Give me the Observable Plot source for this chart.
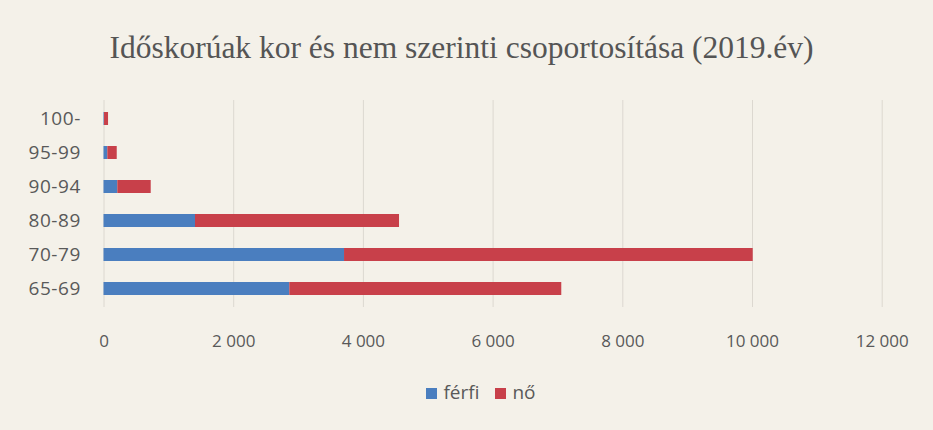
<!DOCTYPE html>
<html>
<head>
<meta charset="utf-8">
<script src="https://cdn.jsdelivr.net/npm/d3@7"></script>
<script src="https://cdn.jsdelivr.net/npm/@observablehq/plot@0.6"></script>
<style>
  html, body { margin: 0; padding: 0; background: #f4f1e9; }
  #wrap { position: relative; width: 933px; height: 430px; overflow: hidden; background: #f4f1e9; }
  #title { position: absolute; left: 0; width: 923px; top: 28px; text-align: center;
           font-family: "Liberation Serif", "Times New Roman", serif; font-size: 31.5px; color: #555; line-height: 40px; }
  #chart { position: absolute; left: 0; top: 88px; }
  #legend { position: absolute; left: 0; width: 962px; top: 379px; text-align: center;
            font-family: "Open Sans", sans-serif; font-size: 19px; color: #595959; line-height: 26px; }
  #legend span.item { display: inline-block; margin: 0 8px; }
  #legend span.sw { display: inline-block; width: 11px; height: 11px; margin-right: 6px; vertical-align: 0px; }
  #chart svg g[aria-label="y-axis tick label"] text { letter-spacing: 0.6px; }
</style>
</head>
<body>
<div id="wrap">
  <div id="title"></div>
  <div id="chart"></div>
  <div id="legend"></div>
</div>
<script>
const title = "Időskorúak kor és nem szerinti csoportosítása (2019.év)";
const categories = ["100-", "95-99", "90-94", "80-89", "70-79", "65-69"];
const seriesNames = ["férfi", "nő"];
const seriesColors = ["#4a7ebf", "#c8404a"];
const ferfi = [8, 59, 213, 1411, 3709, 2865];
const no = [62, 145, 515, 3146, 6302, 4194];
const xTicks = [0, 2000, 4000, 6000, 8000, 10000, 12000];

const data = [];
categories.forEach((c, i) => {
  data.push({cat: c, sex: seriesNames[0], value: ferfi[i]});
  data.push({cat: c, sex: seriesNames[1], value: no[i]});
});

document.getElementById("title").textContent = title;

const fmt = d => d3.format(",")(d).replace(/,/g, " ");

const chart = Plot.plot({
  width: 933,
  height: 272,
  marginLeft: 103.5,
  marginRight: 51.3,
  marginTop: 12,
  marginBottom: 53,
  style: {background: "transparent", fontFamily: "Open Sans, sans-serif", color: "#595959"},
  x: {domain: [0, 12000], ticks: xTicks},
  y: {domain: categories, paddingInner: 0.615, paddingOuter: 0.311},
  color: {domain: seriesNames, range: seriesColors},
  marks: [
    Plot.gridX(xTicks, {stroke: "#dcd8d0", strokeOpacity: 1, strokeWidth: 1}),
    Plot.barX(data, Plot.stackX({y: "cat", x: "value", fill: "sex", order: seriesNames})),
    Plot.axisX(xTicks, {tickSize: 0, tickPadding: 27, tickFormat: fmt, fontSize: 17, label: null, fill: "#595959"}),
    Plot.axisY({tickSize: 0, tickPadding: 23, fontSize: 19, label: null, fill: "#595959"})
  ]
});
document.getElementById("chart").appendChild(chart);

const legend = document.getElementById("legend");
seriesNames.forEach((s, i) => {
  const item = document.createElement("span");
  item.className = "item";
  const sw = document.createElement("span");
  sw.className = "sw";
  sw.style.background = seriesColors[i];
  item.appendChild(sw);
  item.appendChild(document.createTextNode(s));
  legend.appendChild(item);
});
</script>
</body>
</html>
